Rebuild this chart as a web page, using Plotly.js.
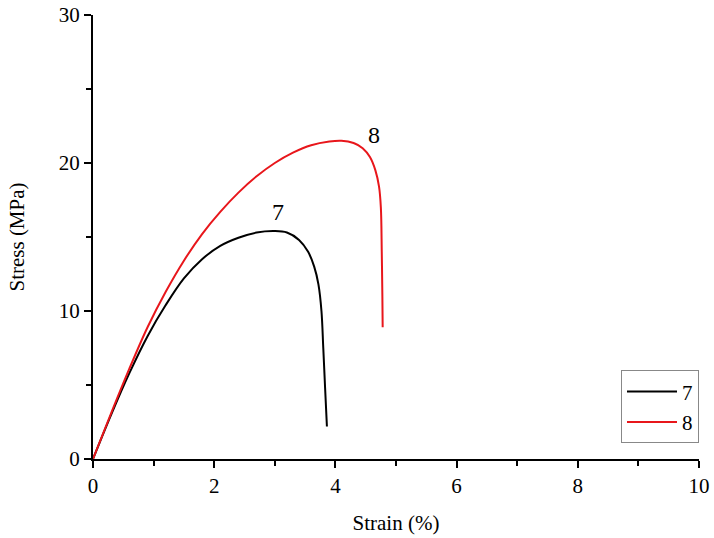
<!DOCTYPE html>
<html>
<head>
<meta charset="utf-8">
<script src="https://cdn.plot.ly/plotly-3.0.1.min.js"></script>
<style>html,body{margin:0;padding:0;background:#fff;}#chart{width:714px;height:538px;}</style>
</head>
<body>
<div id="chart"></div>
<script>
// Sample 7 (black)
const strain7 = [0, 0.3, 0.6, 0.9, 1.2, 1.5, 1.8, 2.1, 2.4, 2.7, 3.0, 3.2, 3.4, 3.55, 3.65, 3.72, 3.77, 3.80, 3.83, 3.86];
const stress7 = [0, 3.0, 5.8, 8.3, 10.4, 12.2, 13.5, 14.4, 14.95, 15.3, 15.4, 15.3, 14.8, 14.0, 13.0, 11.8, 10.0, 7.5, 4.8, 2.2];
// Sample 8 (red)
const strain8 = [0, 0.3, 0.6, 0.9, 1.2, 1.5, 1.8, 2.1, 2.4, 2.7, 3.0, 3.3, 3.6, 3.9, 4.1, 4.3, 4.45, 4.57, 4.66, 4.72, 4.75, 4.765, 4.775, 4.78];
const stress8 = [0, 3.1, 6.1, 8.9, 11.3, 13.4, 15.2, 16.7, 18.0, 19.1, 20.0, 20.7, 21.2, 21.45, 21.5, 21.35, 21.0, 20.4, 19.5, 18.4, 17.0, 14.0, 11.0, 8.9];
const seriesNames = ["7", "8"];
const labelPos = [[3.06, 16.7], [4.64, 21.9]];

const font = {family: "Liberation Serif, Times New Roman, serif", color: "#000"};

const traces = [
  {x: strain7, y: stress7, mode: "lines", name: seriesNames[0], line: {color: "#000", width: 2, shape: "spline", smoothing: 1}},
  {x: strain8, y: stress8, mode: "lines", name: seriesNames[1], line: {color: "#e8161b", width: 2, shape: "spline", smoothing: 1}}
];

const axisCommon = {
  showgrid: false, zeroline: false, showline: true, linecolor: "#000", linewidth: 2,
  ticks: "outside", ticklen: 7, tickwidth: 2, tickcolor: "#000",
  tickfont: Object.assign({size: 21}, font), mirror: false
};

const layout = {
  width: 714, height: 538,
  margin: {l: 93, r: 15, t: 15, b: 79},
  paper_bgcolor: "#fff", plot_bgcolor: "#fff",
  font: font,
  showlegend: true,
  legend: {x: 1, xanchor: "right", y: 0.035, yanchor: "bottom", bgcolor: "#fff",
           bordercolor: "#888", borderwidth: 1, font: Object.assign({size: 21}, font),
           itemwidth: 50, tracegroupgap: 0},
  xaxis: Object.assign({}, axisCommon, {
    range: [0, 10], dtick: 2, tick0: 0,
    minor: {dtick: 1, ticks: "outside", ticklen: 5, tickwidth: 2, tickcolor: "#000", showgrid: false},
    title: {text: "Strain (%)", font: Object.assign({size: 21}, font), standoff: 18}
  }),
  yaxis: Object.assign({}, axisCommon, {
    range: [0, 30], dtick: 10, tick0: 0,
    minor: {dtick: 5, ticks: "outside", ticklen: 5, tickwidth: 2, tickcolor: "#000", showgrid: false},
    title: {text: "Stress (MPa)", font: Object.assign({size: 21}, font), standoff: 28}
  }),
  annotations: seriesNames.map((n, i) => ({
    x: labelPos[i][0], y: labelPos[i][1], xref: "x", yref: "y", text: n,
    showarrow: false, font: Object.assign({size: 24}, font)
  }))
};

Plotly.newPlot("chart", traces, layout, {displayModeBar: false, staticPlot: true});
</script>
</body>
</html>
